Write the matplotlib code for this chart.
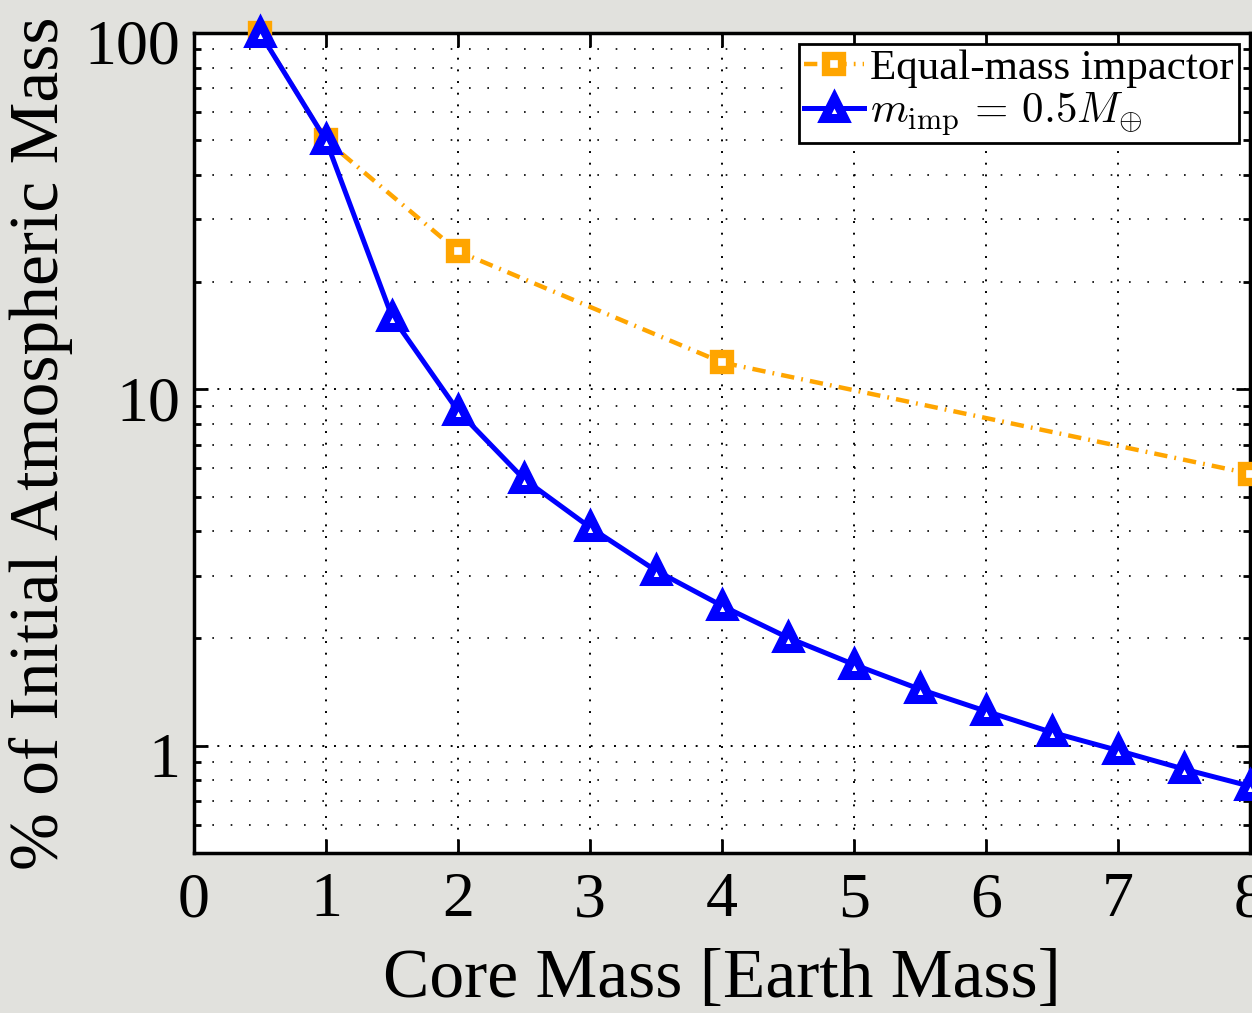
import matplotlib
matplotlib.use("Agg")
import matplotlib.pyplot as plt
from matplotlib.ticker import FixedLocator, FixedFormatter, LogLocator, NullFormatter
from matplotlib.transforms import ScaledTranslation

# Данні
equal_x = [0.5, 1, 2, 4, 8]
equal_y = [100, 50, 24.4, 11.9, 5.8]

half_x = [0.5, 1, 1.5, 2, 2.5, 3, 3.5, 4, 4.5, 5, 5.5, 6, 6.5, 7, 7.5, 8]
half_y = [100, 50, 16.0, 8.7, 5.6, 4.1, 3.1, 2.47, 2.01, 1.69, 1.44, 1.25,
          1.09, 0.97, 0.86, 0.77]

x_ticks = [0, 1, 2, 3, 4, 5, 6, 7, 8]
y_ticks = [1, 10, 100]
y_tick_labels = ["1", "10", "100"]

plt.rcParams['font.family'] = ['Liberation Serif', 'DejaVu Serif']
plt.rcParams['mathtext.fontset'] = 'cm'

W, H = 1252, 1013
fig = plt.figure(figsize=(W / 100, H / 100), dpi=100)
fig.patch.set_facecolor('#e1e1dd')
ax = fig.add_axes([194 / W, 1 - 853 / H, (1250 - 194) / W, (853 - 33) / H])
ax.set_facecolor('white')

ax.plot(equal_x, equal_y, color='orange', linestyle=(0, (3, 1.6, 0.4, 1.6)), lw=3.2,
        marker='s', markersize=12, markerfacecolor='white',
        markeredgecolor='orange', markeredgewidth=6,
        label='Equal-mass impactor', clip_on=False, zorder=3)
ax.plot(half_x, half_y, color='blue', linestyle='-', lw=3.6,
        marker='^', markersize=15, markerfacecolor='white',
        markeredgecolor='blue', markeredgewidth=6.5,
        label=r'$m_{\rm imp}\,=\,0.5M_{\oplus}$', clip_on=False, zorder=4)

ax.set_yscale('log')
ax.set_xlim(0, 8)
ax.set_ylim(0.5, 100)

ax.xaxis.set_major_locator(FixedLocator(x_ticks))
ax.yaxis.set_major_locator(FixedLocator(y_ticks))
ax.yaxis.set_major_formatter(FixedFormatter(y_tick_labels))
ax.yaxis.set_minor_locator(LogLocator(base=10, subs=range(2, 10)))
ax.yaxis.set_minor_formatter(NullFormatter())

ax.grid(True, which='major', color='black', linestyle=(0, (1, 5)), lw=1.4)
ax.grid(True, which='minor', axis='y', color='black', linestyle=(0, (1, 10)), lw=1.2)

ax.tick_params(which='both', direction='in', top=True, right=True,
               labelsize=46, width=2)
ax.tick_params(which='major', length=10)
ax.tick_params(axis='x', which='major', pad=14)
ax.tick_params(axis='y', which='major', pad=10)
ax.tick_params(which='minor', length=5)
for s in ax.spines.values():
    s.set_linewidth(2.5)

# підписи по осі y трохи нижче за поділки, як на оригіналі
for lab in ax.get_yticklabels():
    lab.set_transform(lab.get_transform() + ScaledTranslation(0, -0.09, fig.dpi_scale_trans))

ax.set_xlabel('Core Mass [Earth Mass]', fontsize=50, labelpad=13)
ax.set_ylabel('% of Initial Atmospheric Mass', fontsize=50, labelpad=8)

leg = ax.legend(loc='upper right', fontsize=31, fancybox=False, framealpha=1,
                edgecolor='black', handlelength=1.4, handletextpad=0.15,
                borderpad=0.12, labelspacing=0.05, borderaxespad=0.25)
leg.get_frame().set_linewidth(2)

fig.savefig('out.png', dpi=100, facecolor=fig.get_facecolor())
